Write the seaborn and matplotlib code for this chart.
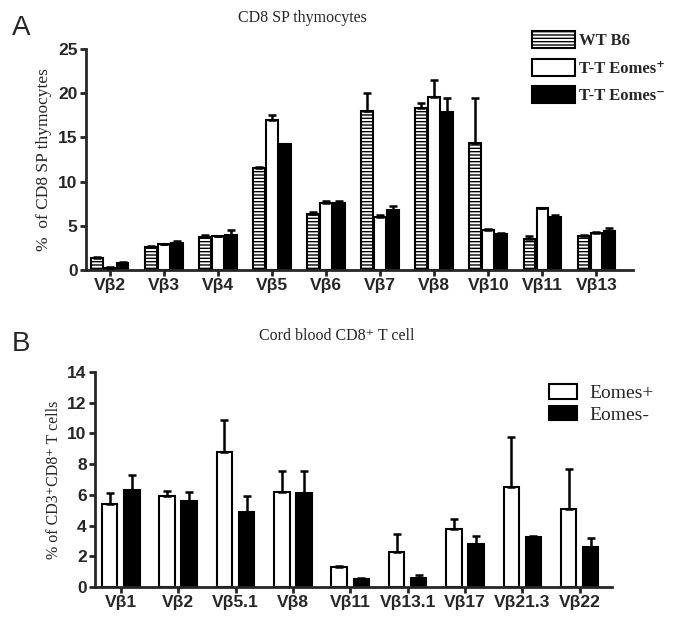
import pandas as pd
import matplotlib
matplotlib.use('Agg')
import matplotlib.pyplot as plt
from matplotlib.patches import Patch
import seaborn as sns

# Panel A: CD8 SP thymocytes
a_cats = ['Vβ2', 'Vβ3', 'Vβ4', 'Vβ5', 'Vβ6', 'Vβ7', 'Vβ8', 'Vβ10', 'Vβ11', 'Vβ13']
a_groups = ['WT B6', 'T-T Eomes⁺', 'T-T Eomes⁻']
a_wt = [1.3, 2.6, 3.7, 11.5, 6.3, 18.0, 18.3, 14.3, 3.5, 3.8]
a_wt_err = [0.2, 0.1, 0.2, 0.1, 0.3, 2.0, 0.6, 5.1, 0.3, 0.2]
a_pos = [0.25, 2.9, 3.8, 16.9, 7.6, 6.0, 19.6, 4.5, 7.0, 4.15]
a_pos_err = [0.1, 0.05, 0.05, 0.6, 0.2, 0.2, 1.9, 0.1, 0.05, 0.1]
a_neg = [0.75, 3.1, 4.0, 14.2, 7.6, 6.8, 17.8, 4.1, 6.0, 4.4]
a_neg_err = [0.1, 0.2, 0.5, 0.05, 0.2, 0.4, 1.6, 0.1, 0.2, 0.4]

# Panel B: cord blood CD8+ T cells
b_cats = ['Vβ1', 'Vβ2', 'Vβ5.1', 'Vβ8', 'Vβ11', 'Vβ13.1', 'Vβ17', 'Vβ21.3', 'Vβ22']
b_groups = ['Eomes+', 'Eomes-']
b_pos = [5.4, 5.9, 8.8, 6.2, 1.3, 2.25, 3.75, 6.5, 5.05]
b_pos_err = [0.7, 0.35, 2.05, 1.35, 0.05, 1.2, 0.7, 3.3, 2.65]
b_neg = [6.3, 5.6, 4.9, 6.1, 0.55, 0.6, 2.8, 3.25, 2.6]
b_neg_err = [1.0, 0.6, 1.0, 1.45, 0.05, 0.2, 0.5, 0.05, 0.6]

sns.set_style('ticks')
plt.rcParams['font.family'] = ['Liberation Sans', 'DejaVu Sans']
plt.rcParams['hatch.linewidth'] = 1.0
SERIF = ['Liberation Serif', 'DejaVu Serif']

df_a = pd.DataFrame({
    'cat': a_cats * 3,
    'group': [g for g in a_groups for _ in a_cats],
    'val': a_wt + a_pos + a_neg,
})
df_b = pd.DataFrame({
    'cat': b_cats * 2,
    'group': [g for g in b_groups for _ in b_cats],
    'val': b_pos + b_neg,
})

fig = plt.figure(figsize=(6.76, 6.25), dpi=100)
ax_a = fig.add_axes([0.127, 0.568, 0.809, 0.354])
ax_b = fig.add_axes([0.1405, 0.0608, 0.7645, 0.344])


def style_axis(ax):
    sns.despine(ax=ax)
    for s in ['left', 'bottom']:
        ax.spines[s].set_linewidth(2)
    ax.tick_params(axis='both', width=2, length=4, direction='out', pad=2)
    for lab in ax.get_xticklabels() + ax.get_yticklabels():
        lab.set_fontweight('bold')
        lab.set_fontsize(12.5)
    ax.set_xlabel('')


def add_errors(ax, errs):
    for cont, err in zip(ax.containers, errs):
        xs = [p.get_x() + p.get_width() / 2 for p in cont.patches]
        ys = [p.get_height() for p in cont.patches]
        ax.errorbar(xs, ys, yerr=[[0] * len(err), err], fmt='none', ecolor='black',
                    elinewidth=1.8, capsize=3, capthick=1.8, zorder=3)


# ---- panel A
pal_a = {'WT B6': 'white', 'T-T Eomes⁺': 'white', 'T-T Eomes⁻': 'black'}
sns.barplot(data=df_a, x='cat', y='val', hue='group', hue_order=a_groups, palette=pal_a,
            width=0.72, gap=0.1, edgecolor='black', linewidth=1.5, legend=False, ax=ax_a)
for p in ax_a.containers[0].patches:
    p.set_hatch('-----')
add_errors(ax_a, [a_wt_err, a_pos_err, a_neg_err])
ax_a.set_ylim(0, 25)
ax_a.set_yticks([0, 5, 10, 15, 20, 25])
ax_a.set_xlim(-0.44, 9.67)
ax_a.set_ylabel('%  of CD8 SP thymocytes', family=SERIF, fontsize=12.5, labelpad=4)
style_axis(ax_a)

fig.text(0.447, 0.972, 'CD8 SP thymocytes', family=SERIF, fontsize=11.5, ha='center', va='center')
fig.text(0.018, 0.955, 'A', fontsize=20, ha='left', va='center')

handles_a = [Patch(facecolor='white', edgecolor='black', hatch='-----', lw=1.5),
             Patch(facecolor='white', edgecolor='black', lw=1.5),
             Patch(facecolor='black', edgecolor='black', lw=1.5)]
fig.legend(handles_a, a_groups, loc='upper left', bbox_to_anchor=(0.787, 0.95),
           frameon=False, borderpad=0, borderaxespad=0, handlelength=2.6, handleheight=1.2,
           handletextpad=0.2, labelspacing=0.55,
           prop={'family': SERIF, 'weight': 'bold', 'size': 12})

# ---- panel B
pal_b = {'Eomes+': 'white', 'Eomes-': 'black'}
sns.barplot(data=df_b, x='cat', y='val', hue='group', hue_order=b_groups, palette=pal_b,
            width=0.77, gap=0.3, edgecolor='black', linewidth=1.5, legend=False, ax=ax_b)
add_errors(ax_b, [b_pos_err, b_neg_err])
ax_b.set_ylim(0, 14)
ax_b.set_yticks(range(0, 15, 2))
ax_b.set_xlim(-0.45, 8.56)
ax_b.set_ylabel('% of CD3⁺CD8⁺ T cells', family=SERIF, fontsize=11.5, labelpad=4)
style_axis(ax_b)

fig.text(0.498, 0.463, 'Cord blood CD8⁺ T cell', family=SERIF, fontsize=11.5, ha='center', va='center')
fig.text(0.018, 0.45, 'B', fontsize=20, ha='left', va='center')

handles_b = [Patch(facecolor='white', edgecolor='black', lw=1.5),
             Patch(facecolor='black', edgecolor='black', lw=1.5)]
fig.legend(handles_b, b_groups, loc='upper left', bbox_to_anchor=(0.812, 0.385),
           frameon=False, borderpad=0, borderaxespad=0, handlelength=1.45, handleheight=0.75,
           handletextpad=0.65, labelspacing=0.2, prop={'family': SERIF, 'size': 14})

fig.savefig('out.png', dpi=100)
